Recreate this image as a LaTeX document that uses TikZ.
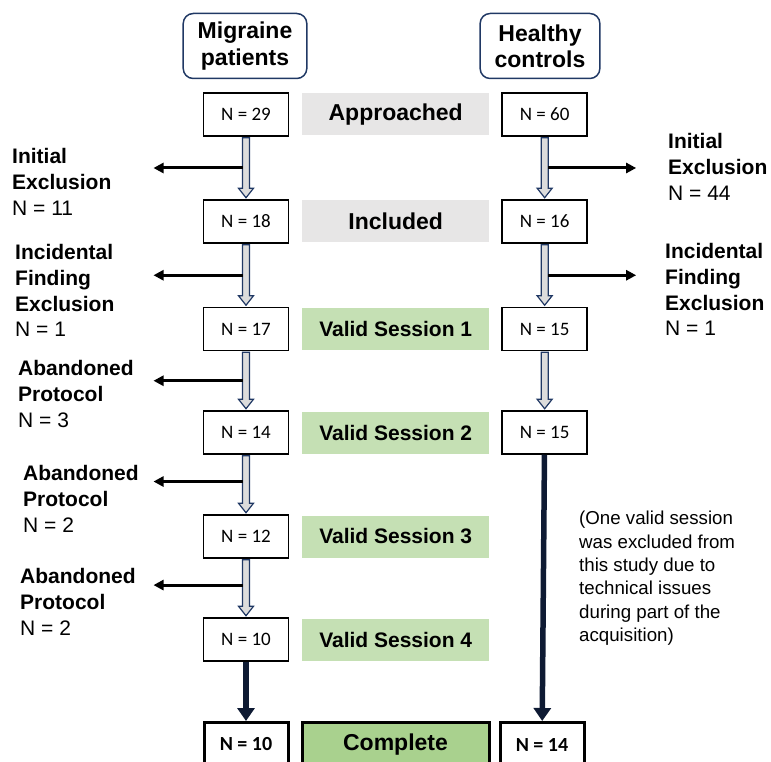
\documentclass[tikz,border=0pt]{standalone}
\usepackage{fontspec}
\setmainfont{Liberation Sans}
\newfontfamily\calibrifont{Carlito}
\usepackage{tikz}
\usetikzlibrary{arrows.meta,positioning,calc}
\definecolor{flownavy}{HTML}{203864}
\definecolor{flowgrey}{HTML}{E7E6E6}
\definecolor{flowgreen}{HTML}{C5E0B4}
\definecolor{flowdone}{HTML}{A9D18E}
\definecolor{flowshaft}{HTML}{DCDCDC}
\definecolor{flowdark}{HTML}{0E1A33}

% hollow block arrow between two stacked boxes
\newcommand{\hollowarrow}[2]{%
  \draw[hollow] ($(#1.south)+(-3.5,1)$) -- ($(#2.north)+(-3.5,-11)$) -- ($(#2.north)+(-7.5,-11)$)
    -- ($(#2.north)+(0,-1.5)$) -- ($(#2.north)+(7.5,-11)$) -- ($(#2.north)+(3.5,-11)$)
    -- ($(#1.south)+(3.5,1)$) -- cycle;}

\begin{document}
\begin{tikzpicture}[
    x=1pt, y=-1pt,
    groupbox/.style={rectangle, rounded corners=10pt, draw=flownavy, line width=1.5pt, minimum height=65pt, inner xsep=14.5pt, align=center, font=\fontsize{23}{26.4}\selectfont\bfseries},
    countbox/.style={rectangle, draw=black, line width=1.5pt, minimum width=85pt, minimum height=43pt, inner sep=0pt, font=\calibrifont\fontsize{19}{22}\selectfont},
    stagebox/.style={rectangle, fill=flowgrey, minimum width=187pt, minimum height=42pt, inner sep=0pt, font=\fontsize{23}{26}\selectfont\bfseries},
    sessionbox/.style={stagebox, fill=flowgreen, font=\fontsize{21}{24}\selectfont\bfseries},
    finalbox/.style={countbox, line width=3pt, minimum width=84pt, minimum height=44pt, font=\calibrifont\fontsize{20}{22}\selectfont\bfseries},
    donebox/.style={finalbox, fill=flowdone, minimum width=187pt, font=\fontsize{23}{26}\selectfont\bfseries},
    exclabel/.style={anchor=north west, inner sep=0pt, align=left, font=\fontsize{21}{25.8}\selectfont},
    notelabel/.style={anchor=north west, inner sep=0pt, align=left, font=\fontsize{18.7}{23.4}\selectfont},
    hollow/.style={draw=flownavy, fill=flowshaft, line width=1.2pt, line join=miter},
    exclarrow/.style={-{Triangle[length=10pt, width=10pt]}, line width=3pt, draw=black},
    mainflow/.style={-{Triangle[length=13pt, width=17pt]}, line width=5.5pt, draw=flowdark}
]
    \useasboundingbox (0,0) rectangle (771,762);
    \clip (0,0) rectangle (771,762);

    % Group headers
    \node (hm) [groupbox] at (245,46) {Migraine\\patients};
    \node (hh) [groupbox] at (540,46) {Healthy\\controls};

    % Migraine column
    \node (m0) [countbox] at (246,114.5) {N = 29};
    \node (m1) [countbox, below=62.5pt of m0] {N = 18};
    \node (m2) [countbox, below=63pt of m1] {N = 17};
    \node (m3) [countbox, below=59pt of m2] {N = 14};
    \node (m4) [countbox, below=59.5pt of m3] {N = 12};
    \node (m5) [countbox, below=58.5pt of m4] {N = 10};
    \node (m6) [finalbox, below=59.25pt of m5] {N = 10};

    % Stage labels
    \node (s0) [stagebox, right=12.75pt of m0] {Approached};
    \node (s1) [stagebox, right=12.75pt of m1] {Included};
    \node (s2) [sessionbox, right=12.75pt of m2] {Valid Session 1};
    \node (s3) [sessionbox, right=12.75pt of m3] {Valid Session 2};
    \node (s4) [sessionbox, right=12.75pt of m4] {Valid Session 3};
    \node (s5) [sessionbox, right=12.75pt of m5] {Valid Session 4};
    \node (s6) [donebox, right=11pt of m6] {Complete};

    % Healthy column
    \node (h0) [countbox, right=12pt of s0] {N = 60};
    \node (h1) [countbox, right=12pt of s1] {N = 16};
    \node (h2) [countbox, right=12pt of s2] {N = 15};
    \node (h3) [countbox, right=12pt of s3] {N = 15};
    \node (h6) [finalbox, right=8pt of s6] {N = 14};

    % Exclusion labels
    \node (x0) [exclabel] at (12,148) {\textbf{Initial}\\\textbf{Exclusion}\\N = 11};
    \node (x1) [exclabel] at (15,244) {\textbf{Incidental}\\\textbf{Finding}\\\textbf{Exclusion}\\N = 1};
    \node (x2) [exclabel] at (18,360) {\textbf{Abandoned}\\\textbf{Protocol}\\N = 3};
    \node (x3) [exclabel] at (23,465) {\textbf{Abandoned}\\\textbf{Protocol}\\N = 2};
    \node (x4) [exclabel] at (20,568) {\textbf{Abandoned}\\\textbf{Protocol}\\N = 2};
    \node (y0) [exclabel] at (668,133) {\textbf{Initial}\\\textbf{Exclusion}\\N = 44};
    \node (y1) [exclabel] at (665,243) {\textbf{Incidental}\\\textbf{Finding}\\\textbf{Exclusion}\\N = 1};
    \node (note) [notelabel] at (579,511) {(One valid session\\was excluded from\\this study due to\\technical issues\\during part of the\\acquisition)};

    % Connectors
    \hollowarrow{m0}{m1}
    \hollowarrow{m1}{m2}
    \hollowarrow{m2}{m3}
    \hollowarrow{m3}{m4}
    \hollowarrow{m4}{m5}
    \hollowarrow{h0}{h1}
    \hollowarrow{h1}{h2}
    \hollowarrow{h2}{h3}
    \draw [mainflow] (m5) -- (m6);
    \draw [mainflow] (h3) -- (h6);

    \draw [exclarrow] ($(m0.south)!0.5!(m1.north)+(-3.5,0)$) -- ++(-89,0);
    \draw [exclarrow] ($(m1.south)!0.5!(m2.north)+(-3.5,0)$) -- ++(-89,0);
    \draw [exclarrow] ($(m2.south)!0.5!(m3.north)+(-3.5,0)$) -- ++(-89,0);
    \draw [exclarrow] ($(m3.south)!0.45!(m4.north)+(-3.5,0)$) -- ++(-89,0);
    \draw [exclarrow] ($(m4.south)!0.45!(m5.north)+(-3.5,0)$) -- ++(-89,0);
    \draw [exclarrow] ($(h0.south)!0.5!(h1.north)+(3.5,0)$) -- ++(88,0);
    \draw [exclarrow] ($(h1.south)!0.5!(h2.north)+(3.5,0)$) -- ++(88,0);
\end{tikzpicture}
\end{document}
